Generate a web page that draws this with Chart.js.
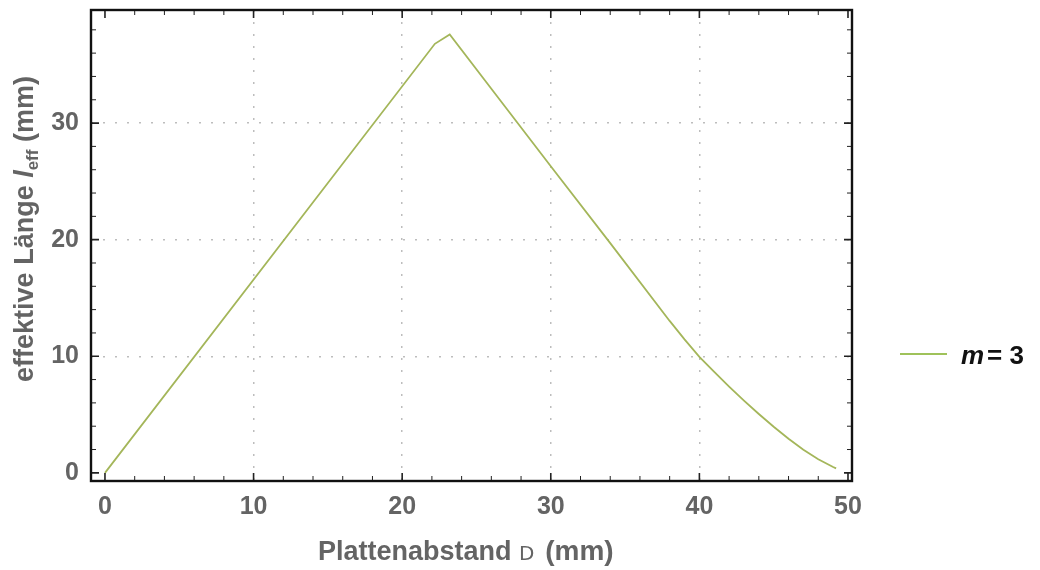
<!DOCTYPE html>
<html><head><meta charset="utf-8">
<script src="https://cdn.jsdelivr.net/npm/chart.js@4/dist/chart.umd.min.js"></script>
<style>html,body{margin:0;padding:0;background:#fff}canvas{display:block}</style>
</head><body>
<canvas id="c" width="1040" height="570"></canvas>
<script>
// Data
const seriesLabel = "m = 3";
const xValues = [0, 22.2, 23.2, 26, 30, 34, 38, 39, 40, 41, 42, 43, 44, 45, 46, 47, 48, 49, 49.2];
const yValues = [0, 36.8, 37.6, 32.95, 26.3, 19.7, 13.03, 11.45, 9.95, 8.65, 7.4, 6.2, 5.05, 3.95, 2.92, 1.98, 1.16, 0.5, 0.38];
const xTickValues = [0, 10, 20, 30, 40, 50];
const yTickValues = [0, 10, 20, 30];
const xMinorTicks = Array.from({length: 26}, (_, i) => i * 2);
const yMinorTicks = Array.from({length: 20}, (_, i) => i * 2);

const FONT = '"Liberation Sans", Arial, sans-serif';
const GRAY = '#646464';
const LINE = '#a4b65a';

const points = xValues.map((x, i) => ({x, y: yValues[i]}));

const framePlugin = {
  id: 'frame',
  afterDatasetsDraw(chart) {
    const {ctx, chartArea: a, scales: {x, y}} = chart;
    ctx.save();
    ctx.strokeStyle = '#222';
    const drawX = (v, len, w) => {
      const px = x.getPixelForValue(v);
      ctx.lineWidth = w;
      ctx.beginPath();
      ctx.moveTo(px, a.bottom); ctx.lineTo(px, a.bottom - len);
      ctx.moveTo(px, a.top); ctx.lineTo(px, a.top + len);
      ctx.stroke();
    };
    const drawY = (v, len, w) => {
      const py = y.getPixelForValue(v);
      ctx.lineWidth = w;
      ctx.beginPath();
      ctx.moveTo(a.left, py); ctx.lineTo(a.left + len, py);
      ctx.moveTo(a.right, py); ctx.lineTo(a.right - len, py);
      ctx.stroke();
    };
    xMinorTicks.forEach(v => drawX(v, xTickValues.includes(v) ? 8 : 5, xTickValues.includes(v) ? 1.6 : 1));
    yMinorTicks.forEach(v => drawY(v, yTickValues.includes(v) ? 8 : 5, yTickValues.includes(v) ? 1.6 : 1));
    ctx.lineWidth = 2.4;
    ctx.strokeStyle = '#111';
    ctx.strokeRect(a.left, a.top, a.right - a.left, a.bottom - a.top);

    // x title
    const parts = [
      {t: 'Plattenabstand ', f: 'bold 27px ' + FONT},
      {t: 'D', f: '20px "DejaVu Sans", sans-serif'},
      {t: ' (mm)', f: 'bold 28px ' + FONT}
    ];
    ctx.fillStyle = GRAY;
    ctx.textBaseline = 'alphabetic';
    let total = 0;
    parts.forEach(p => { ctx.font = p.f; p.w = ctx.measureText(p.t).width; total += p.w; });
    let cx = 318;
    parts.forEach(p => { ctx.font = p.f; ctx.fillText(p.t, cx, 560); cx += p.w + (p.t === 'D' ? 3 : 0); });

    // y title (rotated)
    ctx.translate(33, 229);
    ctx.rotate(-Math.PI / 2);
    const yp = [
      {t: 'effektive Länge ', f: 'bold 27px ' + FONT, dy: 0},
      {t: 'l', f: 'italic bold 27px ' + FONT, dy: 0},
      {t: 'eff', f: 'bold 17px ' + FONT, dy: 5},
      {t: ' (mm)', f: 'bold 27px ' + FONT, dy: 0}
    ];
    total = 0;
    yp.forEach(p => { ctx.font = p.f; p.w = ctx.measureText(p.t).width; total += p.w; });
    cx = -total / 2;
    yp.forEach(p => { ctx.font = p.f; ctx.fillText(p.t, cx, p.dy); cx += p.w; });
    ctx.restore();

    // legend
    ctx.save();
    ctx.strokeStyle = '#9fc25a';
    ctx.lineWidth = 1.8;
    const ly = 354;
    ctx.beginPath(); ctx.moveTo(900, ly); ctx.lineTo(947, ly); ctx.stroke();
    const lab = chart.data.datasets[0].label;
    const [lhs, rhs] = lab.split('=');
    ctx.fillStyle = '#111';
    ctx.textBaseline = 'alphabetic';
    ctx.font = 'italic bold 26px ' + FONT;
    let lx = 961;
    ctx.fillText(lhs.trim(), lx, 364);
    lx += ctx.measureText(lhs.trim()).width + 3;
    ctx.font = 'bold 26px ' + FONT;
    ctx.fillText('= ' + rhs.trim(), lx, 364);
    ctx.restore();
  }
};

new Chart(document.getElementById('c'), {
  type: 'scatter',
  data: {
    datasets: [{
      label: seriesLabel,
      data: points,
      showLine: true,
      borderColor: LINE,
      borderWidth: 1.8,
      pointRadius: 0,
      fill: false
    }]
  },
  options: {
    responsive: false,
    animation: false,
    layout: {padding: {left: 0, top: 10, right: 188, bottom: 0}},
    plugins: {legend: {display: false}, tooltip: {enabled: false}},
    scales: {
      x: {
        type: 'linear', min: -0.94, max: 50.27,
        afterBuildTicks: s => { s.ticks = xTickValues.map(v => ({value: v})); },
        afterFit: s => { s.height = 89; s.paddingLeft = 0; s.paddingRight = 0; },
        border: {display: false, dash: [2, 10]},
        grid: {
          drawTicks: false,
          color: c => (c.tick && (c.tick.value === 0 || c.tick.value === 50)) ? 'rgba(0,0,0,0)' : '#bdbdbd',
          lineWidth: 1.5
        },
        ticks: {padding: 11, color: GRAY, font: {family: FONT, size: 25, weight: 'bold'}, maxRotation: 0}
      },
      y: {
        type: 'linear', min: -0.7, max: 39.7,
        afterBuildTicks: s => { s.ticks = yTickValues.map(v => ({value: v})); },
        afterFit: s => { s.width = 91; s.paddingTop = 0; s.paddingBottom = 0; },
        border: {display: false, dash: [2, 10]},
        grid: {
          drawTicks: false,
          color: c => (c.tick && c.tick.value === 0) ? 'rgba(0,0,0,0)' : '#bdbdbd',
          lineWidth: 1.5
        },
        ticks: {padding: 12, color: GRAY, font: {family: FONT, size: 25, weight: 'bold'}}
      }
    }
  },
  plugins: [framePlugin]
});
</script>
</body></html>
